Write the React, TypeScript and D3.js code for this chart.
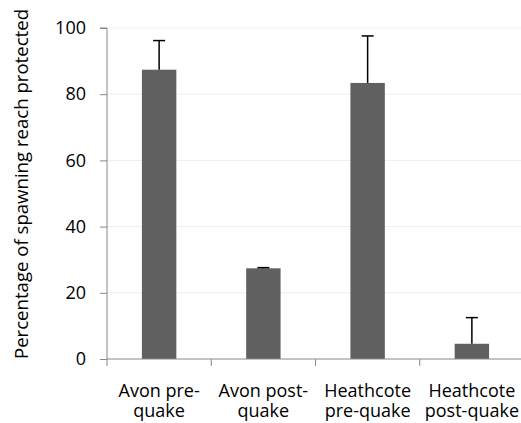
import React, { useRef, useEffect } from 'react';
import * as d3 from 'd3';

const categories = [['Avon pre-', 'quake'], ['Avon post-', 'quake'], ['Heathcote', 'pre-quake'], ['Heathcote', 'post-quake']];
const values = [87.4, 27.4, 83.4, 4.6];
const errorTops = [96.2, 27.6, 97.6, 12.5];
const yTicks = [0, 20, 40, 60, 80, 100];

const App = () => {
    const svgRef = useRef<SVGSVGElement>(null);

    useEffect(() => {
        const svg = d3.select(svgRef.current);
        svg.selectAll('*').remove();

        const margin = { left: 107, top: 28, right: -3, bottom: 64 };
        const width = 521, height = 423;
        const font = '"Open Sans", sans-serif';

        const keys = categories.map(c => c.join(' '));
        const x = d3.scaleBand().domain(keys).range([margin.left, width - margin.right]).paddingInner(0.67).paddingOuter(0.335);
        const y = d3.scaleLinear().domain([0, 100]).range([height - margin.bottom, margin.top]);

        // grid
        svg.append('g').selectAll('line').data(yTicks.slice(1)).enter().append('line')
            .attr('x1', margin.left).attr('x2', width)
            .attr('y1', d => y(d)).attr('y2', d => y(d))
            .attr('stroke', '#eeeeee').attr('stroke-width', 1);

        // bars
        svg.append('g').selectAll('rect').data(values).enter().append('rect')
            .attr('x', (d, i) => x(keys[i])!)
            .attr('width', x.bandwidth())
            .attr('y', d => y(d))
            .attr('height', d => y(0) - y(d))
            .attr('fill', '#606060');

        // error bars
        const eb = svg.append('g').attr('stroke', '#000').attr('stroke-width', 1.5);
        errorTops.forEach((t, i) => {
            const cx = x(keys[i])! + x.bandwidth() / 2;
            eb.append('line').attr('x1', cx).attr('x2', cx).attr('y1', y(values[i])).attr('y2', y(t));
            eb.append('line').attr('x1', cx - 6).attr('x2', cx + 6).attr('y1', y(t)).attr('y2', y(t));
        });

        // y axis
        const yAxis = svg.append('g').attr('transform', `translate(${margin.left},0)`)
            .call(d3.axisLeft(y).tickValues(yTicks).tickSize(7).tickPadding(14));
        yAxis.select('.domain').attr('stroke', '#888').attr('d', `M-7,${y(100)}H0V${y(0)}`);
        yAxis.selectAll('.tick line').attr('stroke', '#888');
        yAxis.selectAll('text').attr('font-family', font).attr('font-size', 18).attr('fill', '#000');

        // x axis
        const step = x.step();
        const xAxis = svg.append('g');
        xAxis.append('line').attr('x1', margin.left).attr('x2', width).attr('y1', y(0)).attr('y2', y(0)).attr('stroke', '#888');
        d3.range(keys.length + 1).forEach(i => {
            const tx = margin.left + i * step;
            xAxis.append('line').attr('x1', tx).attr('x2', tx).attr('y1', y(0)).attr('y2', y(0) + 7).attr('stroke', '#888');
        });
        categories.forEach((c, i) => {
            const cx = x(keys[i])! + x.bandwidth() / 2;
            c.forEach((line, j) => {
                xAxis.append('text').attr('text-anchor', 'middle').attr('font-family', font).attr('font-size', 18).attr('fill', '#000')
                    .attr('x', cx).attr('y', 396.5 + j * 20.5).text(line);
            });
        });

        // y title
        svg.append('text')
            .attr('transform', `translate(28,184) rotate(-90)`)
            .attr('text-anchor', 'middle')
            .attr('font-family', font)
            .attr('font-size', 18.6)
            .text('Percentage of spawning reach protected');
    }, []);

    return <svg ref={svgRef} width={521} height={423} style={{ position: 'absolute', left: 0, top: 0, background: '#fff' }}></svg>;
};

export default App;
